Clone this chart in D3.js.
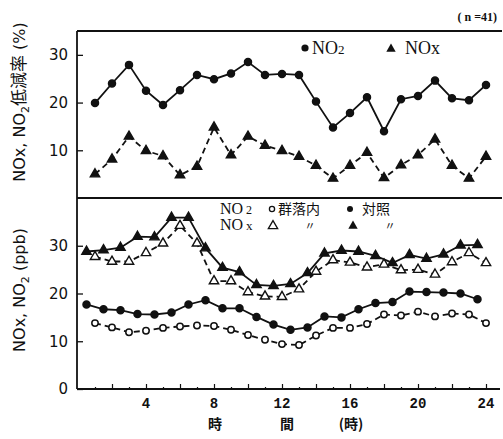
<!DOCTYPE html>
<html>
<head>
<meta charset="utf-8">
<script src="https://cdn.jsdelivr.net/npm/d3@7"></script>
<style>
  body { margin: 0; background: #fff; }
  svg { display: block; }
  text { fill: #111; }
</style>
</head>
<body>
<div id="chart"></div>
<script>
// hours (x categories)
const hoursFull = [1, 2, 3, 4, 5, 6, 7, 8, 9, 10, 11, 12, 13, 14, 15, 16, 17, 18, 19, 20, 21, 22, 23, 24];
const hoursHalf = [0.5, 1.5, 2.5, 3.5, 4.5, 5.5, 6.5, 7.5, 8.5, 9.5, 10.5, 11.5, 12.5, 13.5, 14.5, 15.5, 16.5, 17.5, 18.5, 19.5, 20.5, 21.5, 22.5, 23.5];
const xTicks = [4, 8, 12, 16, 20, 24];

// top panel: reduction rate (%)
const reductionNO2 = [19.9, 24.0, 27.9, 22.5, 19.5, 22.6, 25.8, 24.9, 26.1, 28.5, 25.8, 26.0, 25.8, 20.2, 14.8, 17.8, 21.1, 14.0, 20.7, 21.4, 24.6, 20.9, 20.5, 23.7];
const reductionNOx = [5.0, 8.1, 12.9, 9.9, 8.8, 4.8, 6.6, 14.8, 9.0, 12.9, 11.0, 9.9, 8.7, 6.8, 4.1, 6.8, 9.5, 4.2, 6.9, 9.0, 12.3, 6.8, 4.1, 8.7];
const topTicks = [10, 20, 30];

// bottom panel: concentration (ppb)
const insideNOx = [27.7, 26.7, 26.7, 28.5, 30.5, 34.2, 30.5, 22.6, 22.6, 20.3, 19.4, 19.3, 20.9, 24.6, 27.0, 26.5, 25.5, 26.1, 24.9, 25.0, 24.0, 26.6, 28.5, 26.4];
const controlNOx = [28.8, 29.1, 29.6, 31.9, 31.8, 35.9, 35.9, 29.5, 25.4, 24.5, 21.8, 21.6, 22.0, 24.3, 28.4, 29.0, 28.8, 27.9, 26.4, 28.1, 27.3, 28.2, 30.1, 30.2];
const insideNO2 = [13.8, 12.9, 11.9, 12.2, 12.8, 13.1, 13.3, 13.2, 12.4, 11.3, 10.3, 9.4, 9.2, 11.2, 12.8, 12.8, 13.6, 15.6, 15.4, 16.2, 15.2, 15.8, 15.6, 13.8];
const controlNO2 = [17.7, 16.7, 16.5, 15.7, 15.6, 16.0, 17.7, 18.6, 16.9, 16.9, 15.1, 13.5, 12.4, 12.9, 15.2, 15.0, 16.7, 18.0, 18.2, 20.4, 20.3, 20.2, 20.0, 18.8];
const bottomTicks = [0, 10, 20, 30];

const width = 503, height = 439;
const plotL = 77, plotR = 502, plotT = 31, plotM = 198, plotB = 389;

const svg = d3.select("#chart").append("svg")
    .attr("width", width)
    .attr("height", height);

const x = d3.scaleLinear().domain([0, 24]).range([78, 486]);
const yTop = d3.scaleLinear().domain([0, 35]).range([plotM, plotT]);
const yBot = d3.scaleLinear().domain([0, 40]).range([plotB, plotM]);

const serif = "'Liberation Serif', 'DejaVu Serif', serif";
const sans = "'DejaVu Sans', 'Noto Sans', sans-serif";
const cjk = "'Noto Sans CJK JP', sans-serif";

// frame
const frame = svg.append("g").attr("stroke", "#111").attr("fill", "none");
frame.append("line").attr("x1", plotL).attr("x2", plotR).attr("y1", plotT).attr("y2", plotT).attr("stroke-width", 2);
frame.append("line").attr("x1", plotL).attr("x2", plotR).attr("y1", plotM).attr("y2", plotM).attr("stroke-width", 2);
frame.append("line").attr("x1", plotL).attr("x2", 500).attr("y1", plotB).attr("y2", plotB).attr("stroke-width", 1.8);
frame.append("line").attr("x1", plotL).attr("x2", plotL).attr("y1", plotT).attr("y2", plotB).attr("stroke-width", 1.8);

// y axes (ticks inward)
function yAxis(scale, ticks) {
    const g = svg.append("g")
        .attr("transform", `translate(${plotL},0)`)
        .call(d3.axisRight(scale).tickValues(ticks).tickSize(6).tickFormat(""));
    g.select(".domain").remove();
    g.selectAll(".tick line").attr("stroke", "#111").attr("stroke-width", 1.3);
    svg.append("g").selectAll("text")
        .data(ticks)
        .enter()
        .append("text")
        .attr("x", 68)
        .attr("y", d => scale(d))
        .attr("dy", "0.36em")
        .attr("text-anchor", "end")
        .style("font-family", sans)
        .style("font-size", "15px")
        .text(d => d);
}
yAxis(yTop, topTicks);
yAxis(yBot, bottomTicks);

// x axis: small ticks every hour, inward
const xg = svg.append("g")
    .attr("transform", `translate(0,${plotB})`)
    .call(d3.axisTop(x).tickValues(hoursFull).tickSize(4).tickFormat(""));
xg.select(".domain").remove();
xg.selectAll(".tick line").attr("stroke", "#111").attr("stroke-width", 1.2)
    .attr("y2", d => d % 2 === 0 ? -5 : -2);

svg.append("g").selectAll("text")
    .data(xTicks)
    .enter()
    .append("text")
    .attr("x", d => x(d))
    .attr("y", 408)
    .attr("text-anchor", "middle")
    .style("font-family", "'Liberation Mono', 'DejaVu Sans Mono', monospace")
    .style("font-weight", "bold")
    .style("font-size", "14px")
    .text(d => d);

// x label
const xl = svg.append("g").style("font-family", cjk).style("font-weight", "bold").style("font-size", "14px");
xl.append("text").attr("x", 215).attr("y", 429).attr("text-anchor", "middle").text("時");
xl.append("text").attr("x", 287).attr("y", 429).attr("text-anchor", "middle").text("間");
xl.append("text").attr("x", 351).attr("y", 429).attr("text-anchor", "middle").text("(時)");

// y labels
const yl1 = svg.append("text")
    .attr("transform", "translate(25,102) rotate(-90)")
    .attr("text-anchor", "middle")
    .style("font-family", sans)
    .style("font-size", "16px");
yl1.append("tspan").text("NOx, NO");
yl1.append("tspan").attr("dy", 4).style("font-size", "11px").text("2");
yl1.append("tspan").attr("dy", -4).style("font-family", cjk).style("font-size", "17px").text("低減率");
yl1.append("tspan").text(" (%)");

const yl2 = svg.append("text")
    .attr("transform", "translate(25,290) rotate(-90)")
    .attr("text-anchor", "middle")
    .style("font-family", sans)
    .style("font-size", "16px");
yl2.append("tspan").text("NOx, NO");
yl2.append("tspan").attr("dy", 4).style("font-size", "11px").text("2");
yl2.append("tspan").attr("dy", -4).text(" (ppb)");

// n label
svg.append("text")
    .attr("x", 497).attr("y", 21)
    .attr("text-anchor", "end")
    .style("font-family", serif)
    .style("font-weight", "bold")
    .style("font-size", "12px")
    .text("( n =41)");

// series helper
const tri = d3.symbol().type(d3.symbolTriangle).size(38);
function series(xs, ys, yScale, dashed, marker, filled) {
    const pts = xs.map((h, i) => [h, ys[i]]);
    const line = d3.line().x(d => x(d[0])).y(d => yScale(d[1]));
    svg.append("path")
        .datum(pts)
        .attr("d", line)
        .attr("fill", "none")
        .attr("stroke", "#111")
        .attr("stroke-width", 1.8)
        .attr("stroke-dasharray", dashed ? "6,4" : null);
    const g = svg.append("g");
    if (marker === "circle") {
        g.selectAll("circle")
            .data(pts)
            .enter()
            .append("circle")
            .attr("cx", d => x(d[0]))
            .attr("cy", d => yScale(d[1]))
            .attr("r", filled ? 3.5 : 3.2)
            .attr("fill", filled ? "#111" : "#fff")
            .attr("stroke", "#111")
            .attr("stroke-width", 1.5);
    } else {
        g.selectAll("path")
            .data(pts)
            .enter()
            .append("path")
            .attr("d", tri)
            .attr("transform", d => `translate(${x(d[0])},${yScale(d[1])})`)
            .attr("fill", filled ? "#111" : "#fff")
            .attr("stroke", "#111")
            .attr("stroke-width", 1.4);
    }
}

series(hoursFull, reductionNOx, yTop, true, "triangle", true);
series(hoursFull, reductionNO2, yTop, false, "circle", true);

series(hoursFull, insideNO2, yBot, true, "circle", false);
series(hoursHalf, controlNO2, yBot, false, "circle", true);
series(hoursFull, insideNOx, yBot, true, "triangle", false);
series(hoursHalf, controlNOx, yBot, false, "triangle", true);

// top legend
const lg1 = svg.append("g").style("font-family", serif).style("font-size", "18px");
lg1.append("circle").attr("cx", 305).attr("cy", 48).attr("r", 3.6).attr("fill", "#111");
const t1 = lg1.append("text").attr("x", 312).attr("y", 54);
t1.append("tspan").text("NO");
t1.append("tspan").style("font-size", "13px").text("2");
lg1.append("path").attr("d", tri).attr("transform", "translate(391,49)").attr("fill", "#111");
lg1.append("text").attr("x", 405).attr("y", 54).text("NOx");

// bottom legend
const lg2 = svg.append("g").style("font-size", "15px");
const r1 = lg2.append("text").attr("x", 220).attr("y", 214).style("font-family", serif).style("font-size", "16px");
r1.append("tspan").text("NO");
r1.append("tspan").attr("dx", 3).style("font-size", "12px").text("2");
lg2.append("circle").attr("cx", 272).attr("cy", 209).attr("r", 2.6).attr("fill", "#fff").attr("stroke", "#111").attr("stroke-width", 1.3);
lg2.append("text").attr("x", 278).attr("y", 214).style("font-family", cjk).style("font-size", "14px").text("群落内");
lg2.append("circle").attr("cx", 350).attr("cy", 209).attr("r", 3).attr("fill", "#111");
lg2.append("text").attr("x", 362).attr("y", 214).style("font-family", cjk).style("font-size", "14px").text("対照");

const r2 = lg2.append("text").attr("x", 220).attr("y", 230).style("font-family", serif).style("font-size", "16px");
r2.append("tspan").text("NO");
r2.append("tspan").attr("dx", 3).style("font-size", "13px").text("x");
lg2.append("path").attr("d", tri).attr("transform", "translate(273,226)").attr("fill", "#fff").attr("stroke", "#111").attr("stroke-width", 1.3);
lg2.append("text").attr("x", 310).attr("y", 230).attr("text-anchor", "middle").style("font-family", cjk).style("font-size", "11px").text("〃");
lg2.append("path").attr("d", tri).attr("transform", "translate(353,226)").attr("fill", "#111");
lg2.append("text").attr("x", 390).attr("y", 230).attr("text-anchor", "middle").style("font-family", cjk).style("font-size", "11px").text("〃");
</script>
</body>
</html>
